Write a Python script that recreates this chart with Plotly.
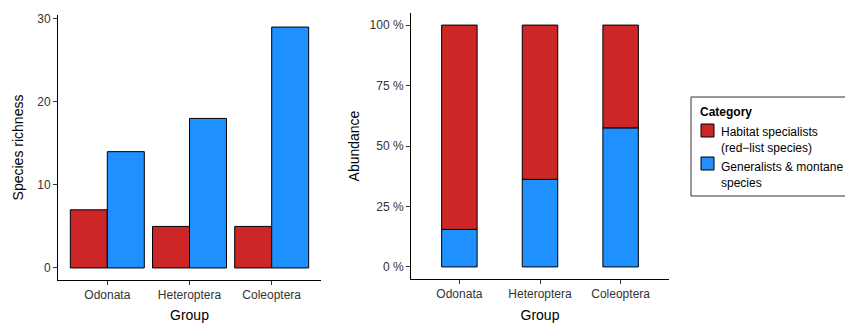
import plotly.graph_objects as go

groups = ["Odonata", "Heteroptera", "Coleoptera"]
richness_specialists = [7, 5, 5]
richness_generalists = [14, 18, 29]
abundance_generalists = [15.5, 36.2, 57.5]
abundance_specialists = [84.5, 63.8, 42.5]
pct_ticks = [0, 25, 50, 75, 100]
pct_labels = ["0 %", "25 %", "50 %", "75 %", "100 %"]
rich_ticks = [0, 10, 20, 30]
legend_title = "Category"
name_spec = "Habitat specialists<br>(red\u2212list species)"
name_gen = "Generalists & montane<br>species"

RED = "#CD2626"
BLUE = "#1E90FF"
W, H = 845, 323
FONT = "Liberation Sans, Arial, sans-serif"

fig = go.Figure()
line = dict(color="#000000", width=1)

fig.add_trace(go.Bar(x=groups, y=richness_specialists, name=name_spec, marker=dict(color=RED, line=line),
                     width=0.45, offset=-0.45, xaxis="x", yaxis="y", showlegend=False))
fig.add_trace(go.Bar(x=groups, y=richness_generalists, name=name_gen, marker=dict(color=BLUE, line=line),
                     width=0.45, offset=0.0, xaxis="x", yaxis="y", showlegend=False))
fig.add_trace(go.Bar(x=groups, y=abundance_generalists, name=name_gen, marker=dict(color=BLUE, line=line),
                     width=0.44, base=0, xaxis="x2", yaxis="y2", showlegend=False))
fig.add_trace(go.Bar(x=groups, y=abundance_specialists, name=name_spec, marker=dict(color=RED, line=line),
                     width=0.44, base=abundance_generalists, xaxis="x2", yaxis="y2", showlegend=False))

axcommon = dict(showline=True, linecolor="#000000", linewidth=1, ticks="outside", ticklen=4,
                tickcolor="#333333", tickwidth=1, showgrid=False, zeroline=False,
                tickfont=dict(size=12, color="#333333", family=FONT),
                title_font=dict(size=14, color="#000000", family=FONT))


def px(x):
    return x / W


def py(y):
    return (H - y) / H


# Legend drawn as a boxed key (matches ggplot layout, clipped at right edge like the reference)
shapes = [
    dict(type="rect", xref="paper", yref="paper", x0=px(691), x1=px(860), y0=py(196), y1=py(97),
         line=dict(color="#333333", width=1), fillcolor="white", layer="above"),
    dict(type="rect", xref="paper", yref="paper", x0=px(701), x1=px(714), y0=py(137), y1=py(124),
         line=dict(color="#000000", width=1), fillcolor=RED, layer="above"),
    dict(type="rect", xref="paper", yref="paper", x0=px(701), x1=px(714), y0=py(170), y1=py(157),
         line=dict(color="#000000", width=1), fillcolor=BLUE, layer="above"),
]
annotations = [
    dict(text="<b>" + legend_title + "</b>", xref="paper", yref="paper", x=px(698), y=py(112),
         xanchor="left", yanchor="middle", showarrow=False,
         font=dict(size=12, color="#000000", family=FONT)),
    dict(text=name_spec, xref="paper", yref="paper", x=px(719), y=py(140),
         xanchor="left", yanchor="middle", showarrow=False, align="left",
         font=dict(size=12, color="#000000", family=FONT)),
    dict(text=name_gen, xref="paper", yref="paper", x=px(719), y=py(174.5),
         xanchor="left", yanchor="middle", showarrow=False, align="left",
         font=dict(size=12, color="#000000", family=FONT)),
]

fig.update_layout(
    width=W, height=H, margin=dict(l=0, r=0, t=0, b=0, autoexpand=False),
    paper_bgcolor="white", plot_bgcolor="white",
    barmode="overlay", font=dict(family=FONT), showlegend=False,
    xaxis=dict(domain=[px(58), px(321)], range=[-0.6, 2.6], anchor="y",
               title=dict(text="Group", standoff=18), **axcommon),
    yaxis=dict(domain=[py(280), py(15)], range=[-1.45, 30.45], anchor="x",
               tickvals=rich_ticks, title=dict(text="Species richness", standoff=10), **axcommon),
    xaxis2=dict(domain=[px(411), px(669)], range=[-0.6, 2.6], anchor="y2",
                title=dict(text="Group", standoff=18), **axcommon),
    yaxis2=dict(domain=[py(279), py(13)], range=[-5, 105], anchor="x2",
                tickvals=pct_ticks, ticktext=pct_labels, title=dict(text="Abundance", standoff=6), **axcommon),
    shapes=shapes, annotations=annotations,
)

fig.write_html("out.html")
